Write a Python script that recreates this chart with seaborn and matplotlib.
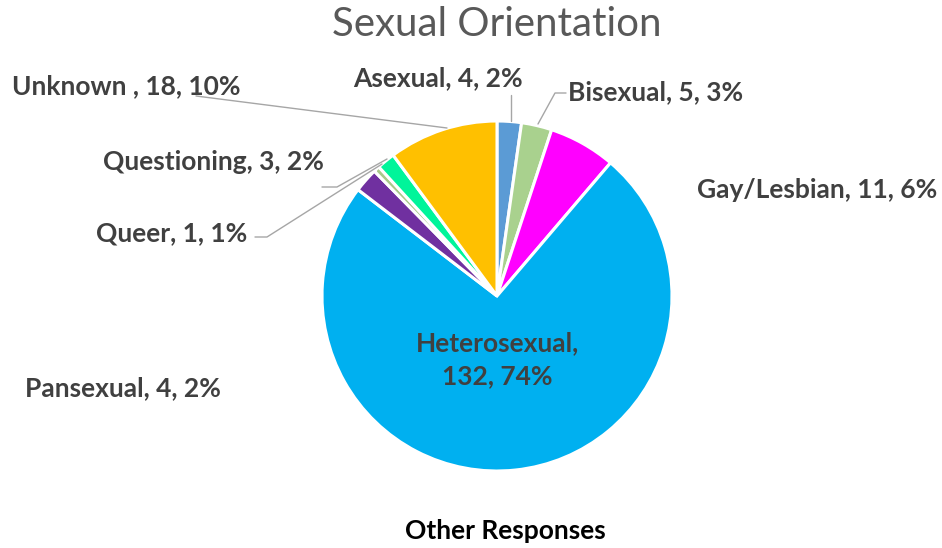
import matplotlib
matplotlib.use("Agg")
import matplotlib.pyplot as plt
import seaborn as sns

categories = ["Asexual", "Bisexual", "Gay/Lesbian", "Heterosexual",
              "Pansexual", "Queer", "Questioning", "Unknown "]
counts = [4, 5, 11, 132, 4, 1, 3, 18]
colors = ["#5B9BD5", "#A9D18E", "#FF00FF", "#00B0F0",
          "#7030A0", "#A9C98A", "#00F59A", "#FFC000"]

sns.set_theme(style="white")
plt.rcParams["font.family"] = ["Lato", "DejaVu Sans"]

W, H = 942, 548
fig = plt.figure(figsize=(W / 100, H / 100), dpi=100)
ax = fig.add_axes([0, 0, 1, 1])


def Y(y):
    # picture rows run downward
    return H - y


ax.pie(counts, colors=colors, startangle=90, counterclock=False,
       center=(497, Y(296)), radius=175, frame=True,
       wedgeprops=dict(edgecolor="white", linewidth=2.2))
ax.set_xlim(0, W)
ax.set_ylim(0, H)
ax.set_aspect("equal")
ax.axis("off")

total = sum(counts)
labels = [f"{c}, {n}, {round(100 * n / total)}%" for c, n in zip(categories, counts)]
labels[3] = f"{categories[3]},\n{counts[3]}, {round(100 * counts[3] / total)}%"

# label anchors (x, centre y) in picture pixels
label_pos = {
    "Asexual": (353, 78, "left"),
    "Bisexual": (568, 92, "left"),
    "Gay/Lesbian": (697, 190, "left"),
    "Heterosexual": (497, 360, "center"),
    "Pansexual": (25, 388, "left"),
    "Queer": (96, 233, "left"),
    "Questioning": (103, 162, "left"),
    "Unknown ": (12, 86, "left"),
}
txt_col = "#404040"
for cat, lab in zip(categories, labels):
    x, y, ha = label_pos[cat]
    ax.text(x, Y(y), lab, ha=ha, va="center", fontsize=19, fontweight="bold",
            color=txt_col, linespacing=1.45)

leaders = [
    [(196, 96), (447, 128)],
    [(322, 187), (337, 187), (387, 159)],
    [(255, 237), (267, 237), (382, 164)],
    [(511, 95), (511, 121)],
    [(566, 93), (555, 93), (538, 124)],
]
for pts in leaders:
    ax.plot([p[0] for p in pts], [Y(p[1]) for p in pts], color="#A6A6A6", lw=1.0)

ax.text(497, Y(24), "Sexual Orientation", ha="center", va="center",
        fontsize=29, color="#595959")
ax.text(505, Y(531), "Other Responses", ha="center", va="center",
        fontsize=19, fontweight="bold", color="black")

fig.savefig("out.png", dpi=100, facecolor="white")
